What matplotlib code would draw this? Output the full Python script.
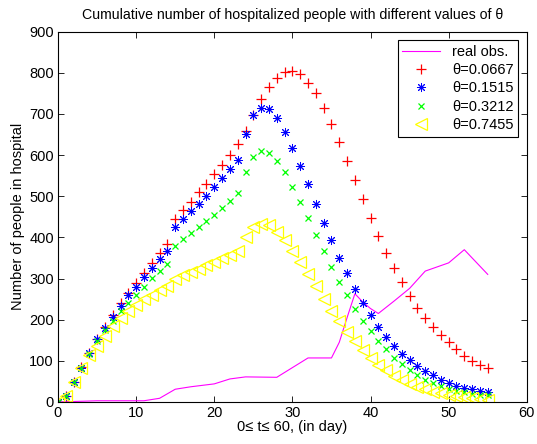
import matplotlib
matplotlib.use("Agg")
import matplotlib.pyplot as plt
import numpy as np

plt.rcParams['font.family'] = ['Liberation Sans', 'DejaVu Sans']

days = np.arange(0, 56)

# Simulated number of hospitalized people for each theta
theta_0667 = [0, 14, 49, 84, 119, 153, 183, 212, 240, 266, 290, 314, 338, 362, 384,
              444, 466, 486, 509, 529, 553, 575, 600, 626, 658, 697, 736, 766, 788, 802,
              805, 796, 776, 750, 715, 675, 632, 586, 539, 493, 448, 404, 363, 325, 291,
              258, 229, 203, 181, 162, 145, 129, 112, 100, 90, 83]
theta_1515 = [0, 14, 49, 83, 118, 152, 179, 207, 234, 259, 280, 303, 326, 348, 367,
              424, 444, 465, 482, 501, 522, 543, 566, 589, 651, 697, 715, 711, 689, 656,
              616, 573, 529, 481, 436, 393, 351, 313, 275, 241, 211, 183, 158, 136, 117,
              102, 87, 75, 65, 54, 46, 39, 34, 31, 27, 24]
theta_3212 = [0, 14, 49, 83, 117, 148, 175, 197, 222, 240, 261, 280, 302, 318, 335,
              379, 396, 410, 424, 440, 455, 471, 489, 507, 559, 596, 610, 605, 585, 558,
              523, 486, 446, 406, 367, 329, 292, 260, 227, 197, 172, 148, 129, 108, 92,
              78, 66, 54, 45, 39, 32, 27, 24, 20, 18, 16]
theta_7455 = [0, 15, 48, 82, 113, 136, 160, 185, 205, 222, 236, 249, 260, 272, 283,
              300, 308, 316, 324, 332, 340, 349, 357, 366, 401, 426, 433, 430, 414, 393,
              367, 339, 310, 281, 250, 222, 196, 170, 147, 126, 107, 90, 78, 64, 53,
              44, 37, 31, 25, 21, 17, 14, 11, 9, 7, 6]

# Observed hospitalizations
obs_days = [0, 5, 11, 13, 15, 17, 20, 22, 24, 28, 32, 35, 36, 37, 38, 39, 40, 41,
            43, 45, 47, 50, 52, 55]
obs_vals = [0, 3, 3, 9, 31, 37, 44, 56, 61, 60, 107, 107, 145, 205, 263, 243, 227, 215,
            245, 276, 318, 338, 370, 310]

fig = plt.figure(figsize=(5.37, 4.44), dpi=100)
ax = fig.add_axes([0.108, 0.0946, 0.873, 0.8344])

ax.plot(obs_days, obs_vals, color='#ff00ff', lw=0.8, label='real obs.')
ax.plot(days, theta_0667, ls='none', marker='+', color='#ff0000', ms=6.5, mew=0.9,
        label='θ=0.0667')
ax.plot(days, theta_1515, ls='none', marker=(8, 2, 0), color='#0000ff', ms=6.5, mew=0.7,
        label='θ=0.1515')
ax.plot(days, theta_3212, ls='none', marker='x', color='#00ff00', ms=5, mew=0.9,
        label='θ=0.3212')
ax.plot(days, theta_7455, ls='none', marker='<', color='#ffff00', ms=8, mew=0.9,
        mfc='none', label='θ=0.7455')

ax.set_xlim(0, 60)
ax.set_ylim(0, 900)
ax.set_xticks(np.arange(0, 61, 10))
ax.set_yticks(np.arange(0, 901, 100))
ax.tick_params(direction='in', top=True, right=True, labelsize=10.5, length=4, width=0.6,
               pad=3)
for s in ax.spines.values():
    s.set_linewidth(0.8)

ax.set_title('Cumulative number of hospitalized people with different values of θ',
             fontsize=10.2, pad=9)
ax.set_xlabel('0≤ t≤ 60, (in day)', fontsize=10.5, labelpad=0)
ax.set_ylabel('Number of people in hospital', fontsize=10.5, labelpad=3)

leg = ax.legend(loc='upper right', fontsize=10.5, fancybox=False, framealpha=1,
                edgecolor='black', borderpad=0.3, labelspacing=0.3, handlelength=2.6,
                borderaxespad=0.6)
leg.get_frame().set_linewidth(0.8)

fig.savefig('out.png', dpi=100)
